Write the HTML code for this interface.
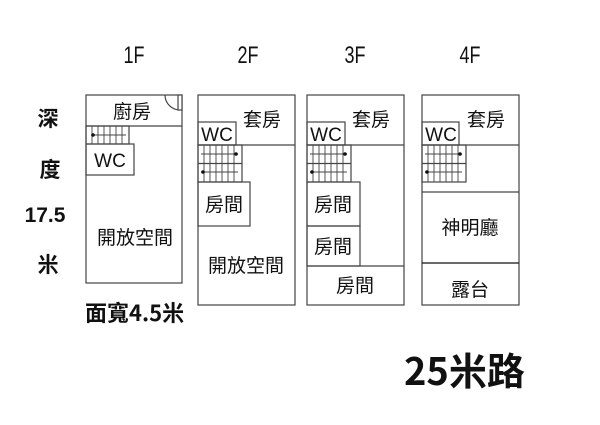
<!DOCTYPE html>
<html><head><meta charset="utf-8"><style>
html,body{margin:0;padding:0;background:#fff;}
svg{display:block;}
text{font-family:"Liberation Sans","Noto Sans CJK TC",sans-serif;fill:#111;}
.c{font-family:"Noto Sans CJK TC","Liberation Sans",sans-serif;}
</style></head><body>
<svg width="600" height="425" viewBox="0 0 600 425" xmlns="http://www.w3.org/2000/svg">
<g fill="none" stroke="#444" stroke-width="1.2">
<rect x="86" y="95" width="96" height="188"/>
<line x1="86" y1="126" x2="182" y2="126"/>
<path d="M165 95 A15 15 0 0 0 180 110" />
<line x1="180" y1="95" x2="180" y2="110"/>
<rect x="178" y="95" width="4" height="15" fill="#fff"/>
<rect x="86" y="126" width="43" height="18"/>
<rect x="86" y="144" width="48" height="31"/>
<rect x="198" y="95" width="97" height="210"/>
<line x1="198" y1="145" x2="295" y2="145"/>
<rect x="198" y="122" width="38" height="23"/>
<rect x="198" y="145" width="44" height="37"/>
<line x1="198" y1="163.5" x2="242" y2="163.5"/>
<rect x="198" y="182" width="52" height="44"/>
<rect x="307" y="95" width="97" height="210"/>
<line x1="307" y1="145" x2="404" y2="145"/>
<rect x="307" y="122" width="38" height="23"/>
<rect x="307" y="145" width="44" height="37"/>
<line x1="307" y1="163.5" x2="351" y2="163.5"/>
<rect x="307" y="182" width="53" height="44"/>
<rect x="307" y="226" width="53" height="40"/>
<line x1="307" y1="266" x2="404" y2="266"/>
<rect x="422" y="95" width="97" height="210"/>
<line x1="422" y1="145" x2="519" y2="145"/>
<rect x="422" y="122" width="37" height="23"/>
<rect x="422" y="145" width="44" height="37"/>
<line x1="422" y1="163.5" x2="466" y2="163.5"/>
<line x1="422" y1="192" x2="519" y2="192"/>
<line x1="422" y1="263" x2="519" y2="263" stroke="#111"/>
</g>
<g stroke="#444" stroke-width="0.9">
<line x1="92" y1="126" x2="92" y2="144"/><line x1="98" y1="126" x2="98" y2="144"/><line x1="104" y1="126" x2="104" y2="144"/><line x1="110" y1="126" x2="110" y2="144"/><line x1="116" y1="126" x2="116" y2="144"/><line x1="122" y1="126" x2="122" y2="144"/>
<line x1="91" y1="135" x2="126" y2="135"/>
</g>
<circle cx="93" cy="135" r="1.8" fill="#111"/>
<g id="st" stroke="#444" stroke-width="0.9">
<line x1="204" y1="145" x2="204" y2="182"/><line x1="210" y1="145" x2="210" y2="182"/><line x1="216" y1="145" x2="216" y2="182"/><line x1="222" y1="145" x2="222" y2="182"/><line x1="228" y1="145" x2="228" y2="182"/><line x1="234" y1="145" x2="234" y2="182"/>
<line x1="201" y1="154" x2="238" y2="154"/>
<line x1="201" y1="172" x2="238" y2="172"/>
<circle cx="236" cy="154" r="1.8" fill="#111" stroke="none"/>
<circle cx="203" cy="172" r="1.8" fill="#111" stroke="none"/>
</g>
<use href="#st" x="109"/>
<use href="#st" x="224"/>
<g class="c" font-size="24">
<text x="134" y="63" text-anchor="middle" transform="translate(134 0) scale(0.75 1) translate(-134 0)">1F</text>
<text x="248" y="63" text-anchor="middle" transform="translate(248 0) scale(0.75 1) translate(-248 0)">2F</text>
<text x="355" y="63" text-anchor="middle" transform="translate(355 0) scale(0.75 1) translate(-355 0)">3F</text>
<text x="470" y="63" text-anchor="middle" transform="translate(470 0) scale(0.75 1) translate(-470 0)">4F</text>
</g>
<g font-size="19" text-anchor="middle">
<text class="c" x="132" y="118">廚房</text>
<text x="110" y="167">WC</text>
<text class="c" x="135" y="244">開放空間</text>
<text x="217" y="141">WC</text>
<text class="c" x="262" y="126">套房</text>
<text class="c" x="224" y="211">房間</text>
<text class="c" x="246" y="272">開放空間</text>
<text x="326" y="141">WC</text>
<text class="c" x="371" y="126">套房</text>
<text class="c" x="333" y="211">房間</text>
<text class="c" x="333" y="253">房間</text>
<text class="c" x="355" y="292">房間</text>
<text x="441" y="141">WC</text>
<text class="c" x="486" y="126">套房</text>
<text class="c" x="470" y="234">神明廳</text>
<text class="c" x="470" y="296">露台</text>
</g>
<g font-weight="bold" text-anchor="middle" font-size="21">
<text class="c" x="48" y="126">深</text>
<text class="c" x="50" y="177">度</text>
<text x="45" y="222">17.5</text>
<text class="c" x="48" y="272">米</text>
</g>
<text class="c" x="85" y="321" font-size="22" font-weight="bold">面寬4.5米</text>
<text class="c" x="404" y="385" font-size="38" font-weight="bold">25米路</text>
</svg>
</body></html>
